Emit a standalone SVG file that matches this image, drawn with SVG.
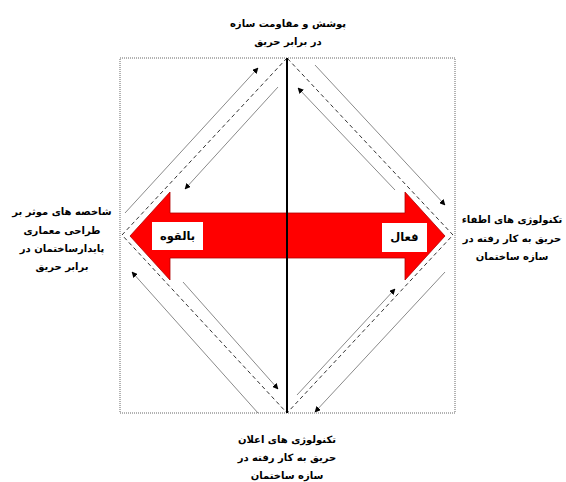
<svg xmlns="http://www.w3.org/2000/svg" width="566" height="482" viewBox="0 0 566 482">
<style>
.t{font-family:"DejaVu Sans","Noto Sans",sans-serif;font-weight:bold;font-size:10px;fill:#000;text-anchor:middle;direction:rtl}
.b{font-family:"DejaVu Sans","Noto Sans",sans-serif;font-weight:bold;font-size:11.5px;fill:#000;text-anchor:middle;direction:rtl}
.g{stroke:#8a8a8a;stroke-width:1;fill:none}
.d{stroke:#333;stroke-width:1;stroke-dasharray:4,3;fill:none}
</style>
<defs>
<marker id="ah" viewBox="0 0 10 10" refX="9" refY="5" markerWidth="6" markerHeight="6" orient="auto" markerUnits="userSpaceOnUse">
<path d="M0,0 L10,5 L0,10 z" fill="#000"/>
</marker>
</defs>
<rect x="120" y="58" width="335" height="355" fill="#fff" stroke="#666" stroke-width="1" stroke-dasharray="1,1"/>
<g id="connectors">
<path class="d" d="M287,58 L122,235 L287,413 L453,235 Z"/>
<line class="g" x1="125" y1="213" x2="258" y2="68" marker-end="url(#ah)"/>
<line class="g" x1="278" y1="87" x2="185" y2="189" marker-end="url(#ah)"/>
<line class="g" x1="395" y1="190" x2="298" y2="88" marker-end="url(#ah)"/>
<line class="g" x1="315" y1="65" x2="445" y2="205" marker-end="url(#ah)"/>
<line class="g" x1="183" y1="282" x2="278" y2="389" marker-end="url(#ah)"/>
<line class="g" x1="258" y1="413" x2="132" y2="272" marker-end="url(#ah)"/>
<line class="g" x1="297" y1="395" x2="395" y2="289" marker-end="url(#ah)"/>
<line class="g" x1="445" y1="272" x2="315" y2="412" marker-end="url(#ah)"/>
</g>
<g id="arrow">
<polygon points="130,236 170,192 170,213 405,213 405,192 445,236 405,280 405,258 170,258 170,280" fill="#ff0000" stroke="#b00000" stroke-width="0.8"/>
</g>
<line x1="287" y1="58" x2="287" y2="413" stroke="#000" stroke-width="2"/>
<g id="n-potential">
<rect x="152" y="222" width="51" height="28" fill="#fff"/>
<text class="b" x="177.5" y="240">بالقوه</text>
</g>
<g id="n-active">
<rect x="382" y="223" width="45" height="29" fill="#fff"/>
<text class="b" x="404.5" y="241">فعال</text>
</g>
<g id="n-top">
<text class="t" x="288" y="27">پوشش و مقاومت سازه</text>
<text class="t" x="288" y="45">در برابر حریق</text>
</g>
<g id="n-left">
<text class="t" x="62" y="215">شاخصه های موثر بر</text>
<text class="t" x="62" y="234">طراحی معماری</text>
<text class="t" x="62" y="252">پایدارساختمان در</text>
<text class="t" x="62" y="270">برابر حریق</text>
</g>
<g id="n-right">
<text class="t" x="512" y="223">تکنولوژی های اطفاء</text>
<text class="t" x="512" y="242">حریق به کار رفته در</text>
<text class="t" x="512" y="260">سازه ساختمان</text>
</g>
<g id="n-bottom">
<text class="t" x="287" y="443">تکنولوژی های اعلان</text>
<text class="t" x="287" y="461">حریق به کار رفته در</text>
<text class="t" x="287" y="479">سازه ساختمان</text>
</g>
</svg>
